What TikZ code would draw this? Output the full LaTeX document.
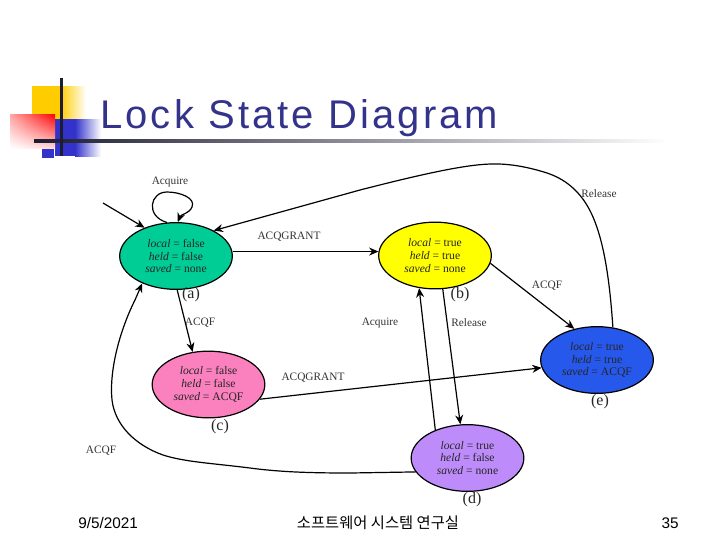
\documentclass[tikz,border=0pt]{standalone}
\usepackage{fontspec}
\setmainfont{Liberation Serif}
\newfontfamily\titlefont[LetterSpace=7.8]{Liberation Sans}
\newfontfamily\footfont{Liberation Sans}
\newfontfamily\krfont{Noto Sans CJK KR}
\usetikzlibrary{arrows.meta,shapes.geometric,shadings}
\definecolor{titleblue}{RGB}{51,51,140}
\definecolor{deco}{RGB}{28,28,50}
\definecolor{sgreen}{RGB}{0,204,150}
\definecolor{syellow}{RGB}{255,255,0}
\definecolor{spink}{RGB}{250,128,190}
\definecolor{sblue}{RGB}{38,88,235}
\definecolor{spurple}{RGB}{190,140,250}
\definecolor{dgold}{RGB}{255,204,0}
\definecolor{dblue}{RGB}{51,51,204}
\tikzset{
  statenode/.style={ellipse,draw=black,line width=0.9pt,minimum width=84.5pt,minimum height=50pt,inner sep=0pt,align=center,font=\fontsize{8.7}{9.6}\selectfont,text=black!85},
  conn/.style={line width=0.9pt,draw=black},
  arr/.style={conn,-{Stealth[length=7pt,width=6pt]}},
  lab/.style={font=\fontsize{8.5}{10}\selectfont,text=black!80,inner sep=0pt},
  sublab/.style={font=\fontsize{12}{14}\selectfont,text=black!85,inner sep=0pt},
  foot/.style={font=\footfont\fontsize{11.5}{14}\selectfont,text=black,inner sep=0pt}
}
\begin{document}
\begin{tikzpicture}[x=0.75pt,y=-0.75pt]
\useasboundingbox (0,0) rectangle (720,540);
% decoration
\fill[dgold] (32,86) rectangle (60,119);
\shade[left color=dgold,right color=white] (60,86) rectangle (86,119);
\fill[dblue] (55,119) rectangle (75,156);
\shade[left color=dblue,right color=white] (75,119) rectangle (101,156);
\fill[dblue] (42,148) rectangle (54,158);
\shade[upper right=red,upper left=red!35!white,lower left=white,lower right=red!15!white] (10,114) rectangle (55,148);
\shade[left color=deco,right color=white] (34,139.5) rectangle (668,142.5);
\fill[deco] (59.5,78) rectangle (62.5,156);
% title
\node[anchor=base west,inner sep=0pt,text=titleblue,font=\titlefont\fontsize{30}{36}\selectfont] (title) at (100,128) {Lock State Diagram};
% states
\node[statenode,fill=sgreen] (a) at (176,256) {\textit{local} = false\\\textit{held} = false\\\textit{saved} = none};
\node[statenode,fill=syellow] (b) at (435,255.5) {\textit{local} = true\\\textit{held} = true\\\textit{saved} = none};
\node[statenode,fill=spink] (c) at (208.5,384.5) {\textit{local} = false\\\textit{held} = false\\\textit{saved} = ACQF};
\node[statenode,fill=sblue] (e) at (597,360) {\textit{local} = true\\\textit{held} = true\\\textit{saved} = ACQF};
\node[statenode,fill=spurple] (d) at (467.5,458) {\textit{local} = true\\\textit{held} = false\\\textit{saved} = none};
\coordinate (init) at (103,203);
% connectors
\draw[arr] (init) -- (a.138);
\draw[arr] (a.105) .. controls (145,216) and (150,192) .. (167,192) .. controls (180,192) and (196,198) .. (192,207) .. controls (189,214) and (181,214) .. (a.87);
\draw[arr] (e.64) .. controls (610,285) and (605,245) .. (593,217) .. controls (581,189) and (562,178) .. (547,173) .. controls (530,167.5) and (510,163.5) .. (493,164) .. controls (470,164) and (430,172) .. (360,190) -- (a.34);
\draw[arr] (a.east |- b.176) -- (b.176);
\draw[arr] (a.272) -- (c.116);
\draw[arr] (d.195) -- (350,473) .. controls (310,473) and (280,472) .. (250,468) .. controls (210,463) and (185,462) .. (163,455) .. controls (135,445) and (115,425) .. (112,400) .. controls (109,370) and (120,330) .. (135,300) -- (a.219);
\draw[arr] (c.-16) -- (e.188);
\draw[arr] (b.-8) -- (e.126);
\draw[arr] (d.139) -- (b.244);
\draw[arr] (b.283) -- (d.102);
% labels
\node[lab] (l1) at (170,182) {Acquire};
\node[lab] (l2) at (599,194) {Release};
\node[lab] (l3) at (289,237) {ACQGRANT};
\node[lab] (l4) at (547,286) {ACQF};
\node[lab] (l5) at (200,323) {ACQF};
\node[lab] (l6) at (380,323) {Acquire};
\node[lab] (l7) at (469,323) {Release};
\node[lab] (l8) at (313,378) {ACQGRANT};
\node[lab] (l9) at (101,451) {ACQF};
\node[sublab] (sa) at (191,295) {(a)};
\node[sublab] (sb) at (460,295) {(b)};
\node[sublab] (sc) at (220,427) {(c)};
\node[sublab] (sd) at (472,500) {(d)};
\node[sublab] (se) at (600,402) {(e)};
% footer
\node[foot,anchor=base west] (f1) at (78,528) {9/5/2021};
\node[foot,anchor=base] (f2) at (378,528) {\krfont 소프트웨어 시스템 연구실};
\node[foot,anchor=base east] (f3) at (679,528) {35};
\end{tikzpicture}
\end{document}
